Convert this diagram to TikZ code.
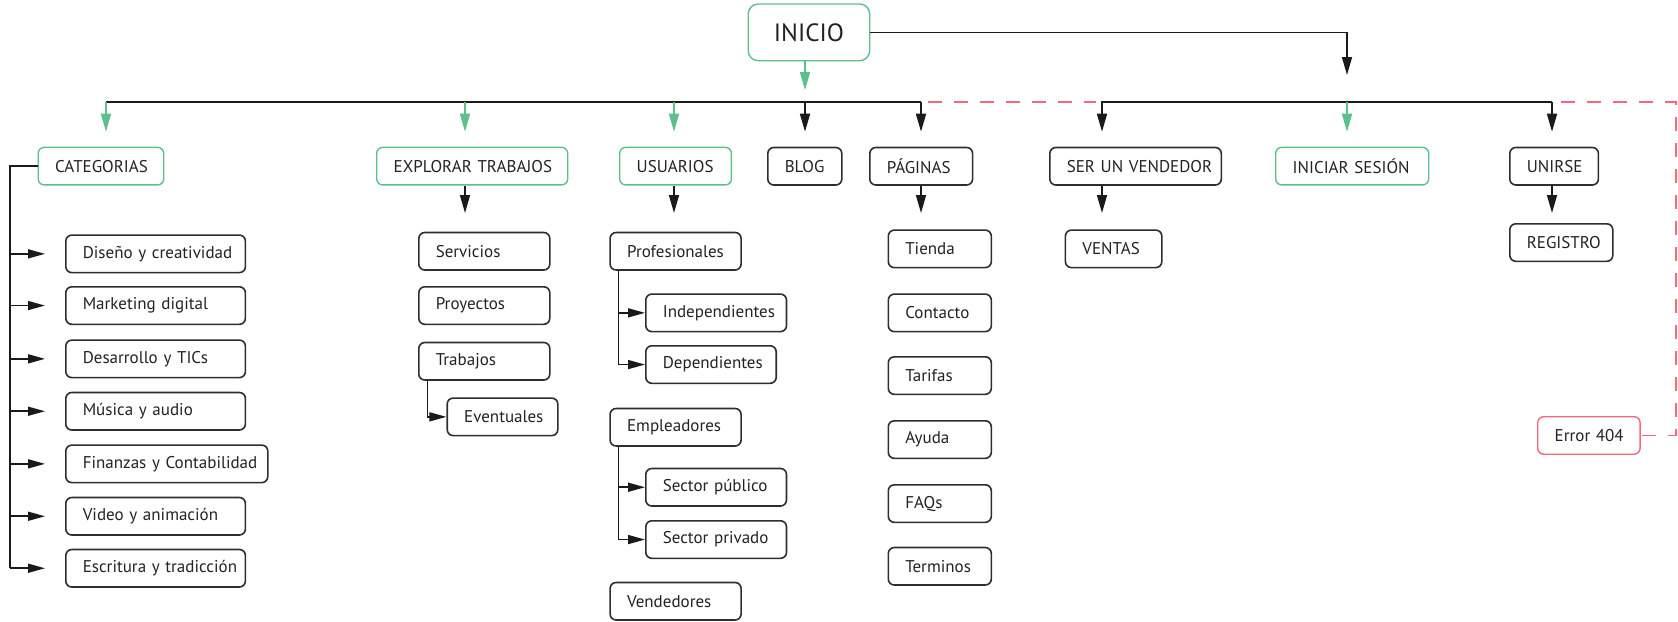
\documentclass[tikz,border=0pt]{standalone}
\usepackage{fontspec}
\setmainfont{PT Sans}
\usetikzlibrary{arrows.meta,calc}
\definecolor{gline}{HTML}{5DC08C}
\definecolor{rline}{HTML}{F2687E}
\definecolor{kline}{HTML}{1A1A1A}
\definecolor{kbox}{HTML}{2E2E2E}
\definecolor{ktext}{HTML}{222222}
\begin{document}
\begin{tikzpicture}[x=1pt,y=-1pt,
  base/.style={rounded corners=6pt, line width=1.6pt, anchor=north west,
    minimum height=37.5pt, inner xsep=17pt, inner ysep=0pt,
    font=\fontsize{17}{20}\selectfont, text=ktext,
    execute at begin node={\hbox\bgroup}, execute at end node={\egroup}},
  w/.code={\pgfmathsetmacro\tw{#1-34}\edef\tmp{\noexpand\pgfkeysalso{text width=\tw pt}}\tmp},
  kb/.style={base, draw=kbox},
  gb/.style={base, draw=gline, line width=1.4pt},
  rb/.style={base, draw=rline, line width=1.4pt},
  topbox/.style={draw=gline, line width=1.4pt, rounded corners=10pt, anchor=north west,
    minimum width=121.5pt, minimum height=56.7pt, inner sep=0pt,
    font=\fontsize{25}{28}\selectfont, text=ktext},
  ln/.style={draw=kline, line width=1.6pt},
  barr/.style={ln, -{Triangle[length=18pt,width=10pt]}},
  sarr/.style={ln, -{Triangle[length=17pt,width=9pt]}},
  garr/.style={draw=gline, line width=1.6pt, -{Triangle[length=18pt,width=10pt]}},
  rdash/.style={draw=rline, line width=1.5pt, dash pattern=on 14pt off 12pt}
]
\useasboundingbox (0,0) rectangle (1678,621);

% top
\node[topbox] (inicio) at (747.5,3.3) {INICIO};

% first level
\node[gb,w=125.5] (cat) at (37.5,146.7) {CATEGORIAS};
\node[gb,w=191] (exp) at (376,146.7) {EXPLORAR TRABAJOS};
\node[gb,w=111.7] (usu) at (619,146.7) {USUARIOS};
\node[kb,w=74] (blog) at (767,146.7) {BLOG};
\node[kb,w=102.8] (pag) at (869,146.7) {PÁGINAS};
\node[kb,w=171.5] (ser) at (1049,146.7) {SER UN VENDEDOR};
\node[gb,w=153] (ini) at (1275,146.7) {INICIAR SESIÓN};
\node[kb,w=88.6] (uni) at (1509,146.7) {UNIRSE};

% categorias
\node[kb,w=179.6] (c1) at (65,234.3) {Diseño y creatividad};
\node[kb,w=179.6] (c2) at (65,286) {Marketing digital};
\node[kb,w=179.6] (c3) at (65,339.3) {Desarrollo y TICs};
\node[kb,w=179.6] (c4) at (65,391.7) {Música y audio};
\node[kb,w=202] (c5) at (65,444.3) {Finanzas y Contabilidad};
\node[kb,w=179.6] (c6) at (65,496.7) {Video y animación};
\node[kb,w=179.6] (c7) at (65,548.7) {Escritura y tradicción};

% explorar
\node[kb,w=131] (serv) at (418,231.7) {Servicios};
\node[kb,w=131] (proy) at (418,286) {Proyectos};
\node[kb,w=131] (trab) at (418,341.7) {Trabajos};
\node[kb,w=110.6] (eve) at (446.4,397.3) {Eventuales};

% usuarios
\node[kb,w=131] (prof) at (609.3,231.7) {Profesionales};
\node[kb,w=140.7] (indep) at (645,293.3) {Independientes};
\node[kb,w=130.4] (dep) at (645,345) {Dependientes};
\node[kb,w=131] (emp) at (609.3,407.7) {Empleadores};
\node[kb,w=140.7] (spub) at (645,467.7) {Sector público};
\node[kb,w=140.7] (spriv) at (645,520) {Sector privado};
\node[kb,w=131] (vend) at (609.3,581.7) {Vendedores};

% paginas
\node[kb,w=103] (p1) at (887.5,229.3) {Tienda};
\node[kb,w=103] (p2) at (887.5,293.3) {Contacto};
\node[kb,w=103] (p3) at (887.5,356) {Tarifas};
\node[kb,w=103] (p4) at (887.5,420) {Ayuda};
\node[kb,w=103] (p5) at (887.5,484) {FAQs};
\node[kb,w=103] (p6) at (887.5,546.7) {Terminos};

% others
\node[kb,w=96.4] (ventas) at (1064.6,229.3) {VENTAS};
\node[kb,w=103] (reg) at (1509,223) {REGISTRO};
\node[rb,w=102.4] (err) at (1537,416) {Error 404};

% coordinates
\coordinate (bIn) at (805,90);
\coordinate (bL) at (106,102);
\coordinate (dE) at (465,102);
\coordinate (dUs) at (674,102);
\coordinate (dB) at (805,102);
\coordinate (bR) at (921,102);
\coordinate (dS) at (1102,102);
\coordinate (dI) at (1347,102);
\coordinate (dU) at (1552,102);
\coordinate (sT) at (1347,75);
\coordinate (cR) at (1676,102);
\coordinate (sp) at (10,0);
\coordinate (tx) at (427.5,0);
\coordinate (px) at (618.5,0);

% INICIO links
\draw[garr] (inicio.south -| bIn) -- (bIn);
\draw[barr] (inicio.east) -| (sT);

% first bus
\draw[ln] (bL) -- (bR);
\draw[garr, shorten >=15pt] (bL) -- (cat.north -| bL);
\draw[garr, shorten >=15pt] (dE) -- (exp.north -| dE);
\draw[garr, shorten >=15pt] (dUs) -- (usu.north -| dUs);
\draw[barr, shorten >=15pt] (dB) -- (blog.north -| dB);
\draw[barr, shorten >=15pt] (bR) -- (pag.north -| bR);

% second bus
\draw[barr, shorten >=15pt] (dU) -- (dS) -- (ser.north -| dS);
\draw[barr, shorten >=15pt] (dU) -- (uni.north -| dU);
\draw[garr, shorten >=15pt] (dI) -- (ini.north -| dI);

% dashed error links
\draw[rdash] ($(bR)+(7,0)$) -- ($(dS)+(-6,0)$);
\draw[rdash] ($(dU)+(9,0)$) -- (cR) |- (err.east);

% categorias
\draw[ln] (cat.west) -| (c7.west -| sp);
\foreach \c in {c1,c2,c3,c4,c5,c6,c7}
  \draw[sarr, shorten >=20pt] (\c.west -| sp) -- (\c.west);

% explorar
\draw[barr, shorten >=18.7pt] (exp.south -| dE) -- (serv.north -| dE);
\draw[sarr] (trab.south -| tx) |- (eve.west);

% usuarios
\draw[barr, shorten >=18.7pt] (usu.south -| dUs) -- (prof.north -| dUs);
\draw[sarr] (prof.south -| px) |- (indep.west);
\draw[sarr] (prof.south -| px) |- (dep.west);
\draw[sarr] (emp.south -| px) |- (spub.west);
\draw[sarr] (emp.south -| px) |- (spriv.west);

% paginas / vendedor / unirse
\draw[barr, shorten >=16.3pt] (pag.south -| bR) -- (p1.north -| bR);
\draw[barr, shorten >=16.3pt] (ser.south -| dS) -- (ventas.north -| dS);
\draw[barr, shorten >=10pt] (uni.south -| dU) -- (reg.north -| dU);
\end{tikzpicture}
\end{document}
